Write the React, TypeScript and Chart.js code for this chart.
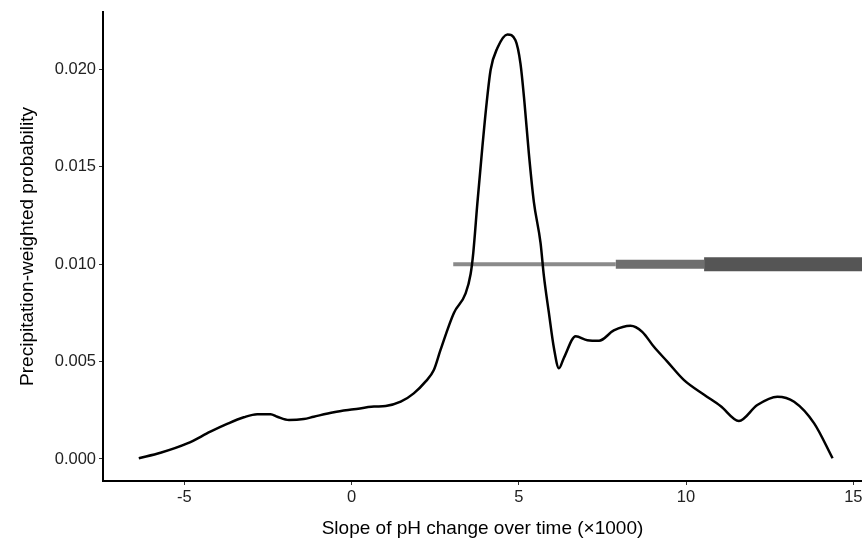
import React, { useEffect, useRef } from "react";
import { Chart, registerables } from "chart.js";

Chart.register(...registerables);

// Density curve (slope ×1000 vs precipitation-weighted probability)
const CURVE_X = [
  -6.36, -5.71, -4.91, -4.22, -3.72, -3.22, -2.82, -2.42, -2.22, -1.87, -1.43, -1.13, -0.53, 0.07, 0.67, 1.02,
  1.47, 1.86, 2.21, 2.46, 2.66, 3.06, 3.41, 3.56, 3.64, 3.76, 3.91, 4.04, 4.16, 4.36, 4.66, 4.9, 5.05, 5.17,
  5.3, 5.45, 5.65, 5.75, 5.9, 6.05, 6.2, 6.35, 6.7, 7.05, 7.4, 7.84, 8.34, 8.69, 9.04, 9.44, 9.94, 10.54,
  11.03, 11.58, 12.13, 12.73, 13.23, 13.83, 14.38,
];
const CURVE_Y = [
  0.00004, 0.00032, 0.0008, 0.0014, 0.0018, 0.00214, 0.0023, 0.0023, 0.00217, 0.002, 0.00205, 0.00217, 0.0024,
  0.00255, 0.00269, 0.00272, 0.00294, 0.00337, 0.00397, 0.00457, 0.0056, 0.0075, 0.0085, 0.0095, 0.0106, 0.0131,
  0.016, 0.0183, 0.02, 0.0211, 0.0218, 0.0215, 0.0203, 0.0183, 0.0157, 0.0132, 0.0111, 0.0094, 0.0075, 0.0057,
  0.00466, 0.0052, 0.0063, 0.0061, 0.00607, 0.0066, 0.00684, 0.00653, 0.00576, 0.005, 0.00405, 0.0033, 0.00272,
  0.00195, 0.00277, 0.0032, 0.00294, 0.00183, 0.00004,
];

// Interval bars at y = 0.010
const BAR_Y = 0.01;
const BAR_STARTS = [3.04, 7.9, 10.54];
const BAR_ENDS = [7.9, 10.54, 16.0];
const BAR_WIDTHS = [4, 9, 14];
const BAR_COLORS = ["#8a8a8a", "#6e6e6e", "#555555"];

const X_TICKS = [-5, 0, 5, 10, 15];
const Y_TICKS = [0, 0.005, 0.01, 0.015, 0.02];
const X_MIN = -7.43;
const X_MAX = 15.26;
const Y_MIN = -0.00113;
const Y_MAX = 0.02295;

const X_TITLE = "Slope of pH change over time (×1000)";
const Y_TITLE = "Precipitation-weighted probability";

const FONT = "'Liberation Sans', Arial, sans-serif";

export default function App() {
  const ref = useRef<HTMLCanvasElement | null>(null);

  useEffect(() => {
    document.body.style.margin = "0";
    if (!ref.current) return;
    const curve = CURVE_X.map((x, i) => ({ x, y: CURVE_Y[i] }));
    const bars = BAR_STARTS.map((s, i) => ({
      type: "line" as const,
      data: [
        { x: s, y: BAR_Y },
        { x: BAR_ENDS[i], y: BAR_Y },
      ],
      borderColor: BAR_COLORS[i],
      borderWidth: BAR_WIDTHS[i],
      borderCapStyle: "butt" as const,
      pointRadius: 0,
      tension: 0,
    }));
    const chart = new Chart(ref.current, {
      type: "line",
      data: {
        datasets: [
          {
            data: curve,
            borderColor: "#000000",
            borderWidth: 2.5,
            pointRadius: 0,
            cubicInterpolationMode: "monotone",
          },
          ...bars,
        ],
      },
      options: {
        animation: false,
        responsive: false,
        maintainAspectRatio: false,
        layout: { padding: { top: 12, right: 0, bottom: 6, left: 0 } },
        plugins: { legend: { display: false }, tooltip: { enabled: false } },
        scales: {
          x: {
            type: "linear",
            min: X_MIN,
            max: X_MAX,
            afterBuildTicks: (s: any) => {
              s.ticks = X_TICKS.map((v) => ({ value: v }));
            },
            afterFit: (s: any) => {
              s.height = 59;
              s.paddingRight = 0;
              s.paddingLeft = 0;
            },
            ticks: {
              color: "#222222",
              font: { family: FONT, size: 16.5 },
              padding: 3,
              maxRotation: 0,
              callback: (v: any) => String(v),
            },
            grid: { display: true, drawOnChartArea: false, drawTicks: true, tickLength: 4, color: "#333333" },
            border: { display: true, color: "#000000", width: 2 },
            title: { display: true, text: X_TITLE, color: "#000000", font: { family: FONT, size: 19 }, padding: 0 },
          },
          y: {
            type: "linear",
            min: Y_MIN,
            max: Y_MAX,
            afterBuildTicks: (s: any) => {
              s.ticks = Y_TICKS.map((v) => ({ value: v }));
            },
            afterFit: (s: any) => {
              s.width = 103;
              s.paddingTop = 0;
              s.paddingBottom = 0;
            },
            ticks: {
              color: "#222222",
              font: { family: FONT, size: 16.5 },
              padding: 3,
              callback: (v: any) => Number(v).toFixed(3),
            },
            grid: { display: true, drawOnChartArea: false, drawTicks: true, tickLength: 4, color: "#333333" },
            border: { display: true, color: "#000000", width: 2 },
            title: { display: true, text: Y_TITLE, color: "#000000", font: { family: FONT, size: 19 }, padding: { top: 16, bottom: 0 } },
          },
        },
      },
    });
    return () => chart.destroy();
  }, []);

  return (
    <div style={{ position: "fixed", left: 0, top: 0, width: 862, height: 546, background: "#ffffff" }}>
      <canvas ref={ref} width={862} height={546} style={{ width: 862, height: 546 }} />
    </div>
  );
}
